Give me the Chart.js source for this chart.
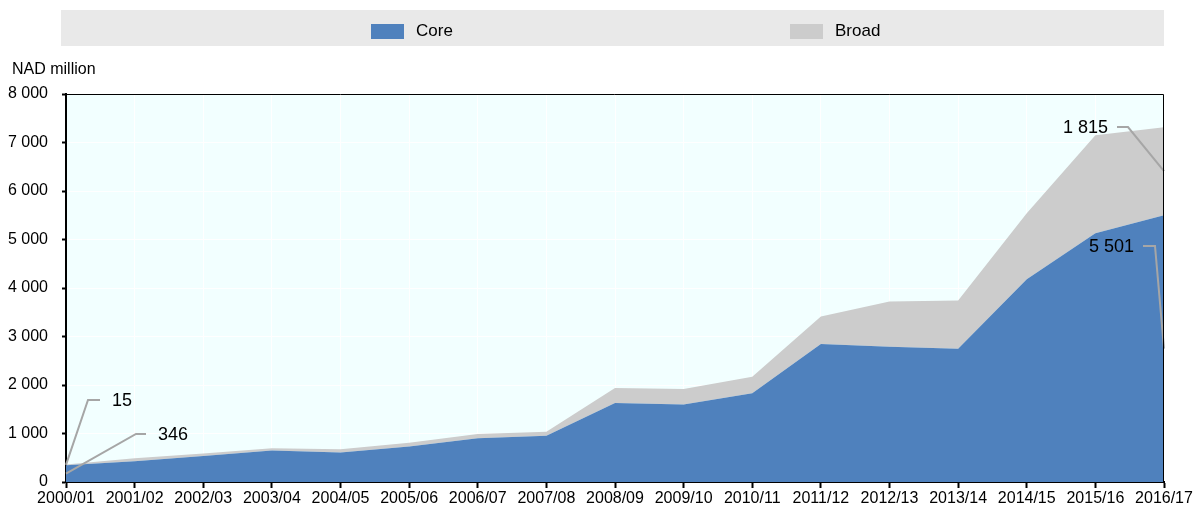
<!DOCTYPE html>
<html>
<head>
<meta charset="utf-8">
<script src="https://cdn.jsdelivr.net/npm/chart.js@4"></script>
<style>
  html, body { margin: 0; padding: 0; background: #fff; }
  #wrap { position: relative; width: 1200px; height: 510px; font-family: "Liberation Sans", Arial, sans-serif; }
  #legend { position: absolute; left: 61px; top: 10px; width: 1103px; height: 36px; background: #e9e9e9; }
  .item { position: absolute; top: 3px; height: 36px; display: flex; align-items: center; font-size: 17px; color: #000; }
  .sw { width: 33px; height: 15px; margin-right: 12px; }
  canvas { position: absolute; left: 0; top: 0; }
</style>
</head>
<body>
<div id="wrap">
  <canvas id="chart" width="1200" height="510"></canvas>
  <div id="legend">
    <div class="item" style="left:310px"><span class="sw" style="background:#4f81bd"></span>Core</div>
    <div class="item" style="left:729px"><span class="sw" style="background:#cccccc"></span>Broad</div>
  </div>
</div>
<script>
const years = ['2000/01', '2001/02', '2002/03', '2003/04', '2004/05', '2005/06', '2006/07', '2007/08', '2008/09',
  '2009/10', '2010/11', '2011/12', '2012/13', '2013/14', '2014/15', '2015/16', '2016/17'];
const core = [346, 430, 536, 650, 610, 730, 900, 955, 1630, 1600, 1830, 2845, 2790, 2750, 4180, 5130, 5501];
const broad = [15, 60, 54, 45, 65, 80, 90, 82, 310, 320, 340, 565, 930, 990, 1360, 2020, 1815];
const yTicks = [0, 1000, 2000, 3000, 4000, 5000, 6000, 7000, 8000];

const FONT = '"Liberation Sans", Arial, sans-serif';

function fmt(v) {
  return String(v).replace(/\B(?=(\d{3})+(?!\d))/g, ' ');
}

// plot background + axis unit label
const bgPlugin = {
  id: 'bg',
  beforeDraw(chart) {
    const { ctx, chartArea: a } = chart;
    ctx.save();
    ctx.fillStyle = '#f2ffff';
    ctx.fillRect(a.left, a.top, a.right - a.left, a.bottom - a.top);
    ctx.fillStyle = '#000';
    ctx.font = '16px ' + FONT;
    ctx.textBaseline = 'middle';
    ctx.fillText('NAD million', 12, 70);
    ctx.restore();
  },
  afterDraw(chart) {
    const { ctx, chartArea: a } = chart;
    ctx.save();
    ctx.strokeStyle = '#000';
    ctx.lineWidth = 1;
    ctx.beginPath();
    ctx.moveTo(a.left, a.top + 0.5);
    ctx.lineTo(a.right - 0.5, a.top + 0.5);
    ctx.lineTo(a.right - 0.5, a.bottom);
    ctx.stroke();
    ctx.restore();
  }
};

// end labels with grey leader lines
const calloutPlugin = {
  id: 'callouts',
  afterDatasetsDraw(chart) {
    const { ctx, scales: { x, y } } = chart;
    const first = 0, last = years.length - 1;
    const notes = [
      { v: broad[first], ax: x.getPixelForValue(first), ay: y.getPixelForValue(core[first] + broad[first] / 2), dx: 22, ty: 400, len: 12, side: 'r' },
      { v: core[first], ax: x.getPixelForValue(first), ay: y.getPixelForValue(core[first] / 2), dx: 70, ty: 434, len: 10, side: 'r' },
      { v: broad[last], ax: x.getPixelForValue(last), ay: y.getPixelForValue(core[last] + broad[last] / 2), dx: -36, ty: 127, len: -11, side: 'l' },
      { v: core[last], ax: x.getPixelForValue(last), ay: y.getPixelForValue(core[last] / 2), dx: -9, ty: 246, len: -12, side: 'l' }
    ];
    ctx.save();
    ctx.strokeStyle = '#a6a6a6';
    ctx.lineWidth = 2;
    ctx.fillStyle = '#000';
    ctx.font = '18px ' + FONT;
    ctx.textBaseline = 'middle';
    notes.forEach(n => {
      const ex = n.ax + n.dx;
      ctx.beginPath();
      ctx.moveTo(n.ax, n.ay);
      ctx.lineTo(ex, n.ty);
      ctx.lineTo(ex + n.len, n.ty);
      ctx.stroke();
      if (n.side === 'r') {
        ctx.textAlign = 'left';
        ctx.fillText(fmt(n.v), ex + n.len + 12, n.ty + 1);
      } else {
        ctx.textAlign = 'right';
        ctx.fillText(fmt(n.v), ex + n.len - 9, n.ty + 1);
      }
    });
    ctx.restore();
  }
};

new Chart(document.getElementById('chart'), {
  type: 'line',
  data: {
    labels: years,
    datasets: [
      { label: 'Core', data: core, backgroundColor: '#4f81bd', borderWidth: 0, pointRadius: 0, fill: 'origin', tension: 0 },
      { label: 'Broad', data: broad, backgroundColor: '#cccccc', borderWidth: 0, pointRadius: 0, fill: '-1', tension: 0 }
    ]
  },
  options: {
    responsive: false,
    animation: false,
    layout: { padding: { left: 0, right: 36, top: 94, bottom: 0 } },
    plugins: { legend: { display: false }, tooltip: { enabled: false } },
    scales: {
      x: {
        offset: false,
        grid: { color: '#ffffff', lineWidth: 1, drawTicks: true, tickLength: 6, tickColor: '#000', tickWidth: 2 },
        border: { color: '#000', width: 2 },
        ticks: { autoSkip: false, maxRotation: 0, color: '#000', font: { family: FONT, size: 16 }, padding: 1 },
        afterFit(s) { s.height = 28; }
      },
      y: {
        stacked: true,
        min: 0, max: 8000,
        afterBuildTicks(s) { s.ticks = yTicks.map(v => ({ value: v })); },
        grid: { color: '#ffffff', lineWidth: 1, drawTicks: true, tickLength: 4, tickColor: '#000', tickWidth: 2 },
        border: { color: '#000', width: 2 },
        ticks: { color: '#000', font: { family: FONT, size: 16 }, padding: 14, callback: v => fmt(v) },
        afterFit(s) { s.width = 66; }
      }
    }
  },
  plugins: [bgPlugin, calloutPlugin]
});
</script>
</body>
</html>
